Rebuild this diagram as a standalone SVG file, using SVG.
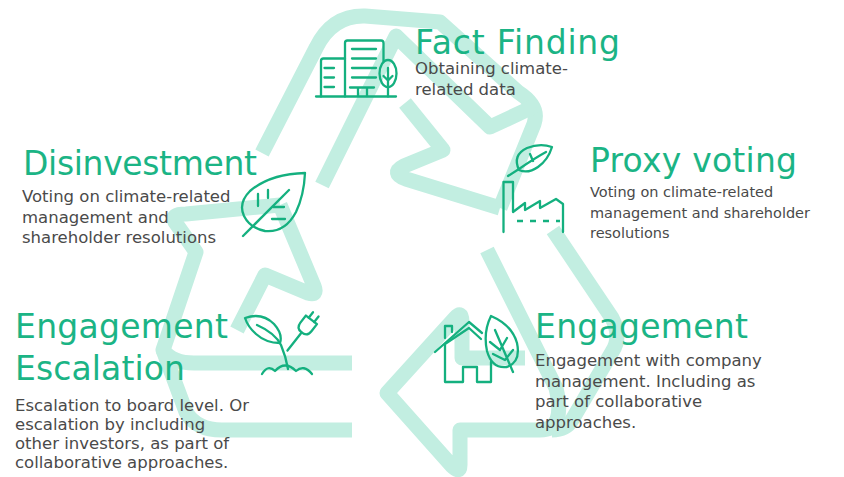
<svg xmlns="http://www.w3.org/2000/svg" width="844" height="477" viewBox="0 0 844 477">
  <style>
    .band{fill:none;stroke:#c2eee1;stroke-width:15;stroke-linejoin:round;stroke-linecap:butt}
    .ic{fill:none;stroke:#14b07f;stroke-width:2.3;stroke-linecap:round;stroke-linejoin:round}
    .ttl{font-family:"DejaVu Sans",sans-serif;font-size:33px;fill:#1bb485}
    .txt{font-family:"DejaVu Sans",sans-serif;font-size:16.5px;fill:#4a4a4a}
    .sm{font-size:14.5px}
  </style>
  <rect width="844" height="477" fill="#ffffff"/>

  <!-- recycling loop: three folded arrows drawn as outlines -->
  <g id="connectors">
    <!-- top arrow -->
    <path class="band" d="M262,153 L316,48 Q332,15 365,16 L440,22 L518,92 Q540,106 534,124 L500,208"/>
    <path class="band" d="M322,185 L396,36 L490,127 L535,106"/>
    <path class="band" d="M405,103 L443,150 L404,166 Q390,173 406,179 L500,208"/>
    <!-- right arrow, turning along the bottom -->
    <path class="band" d="M553,230 L612,318 Q622,337 612,352 L572,420 Q566,430 552,430"/>
    <path class="band" d="M487,250 L556,388 Q566,430 540,430 L460,430 L460,465 Q460,474 452,466 L387,393 L455,318 Q462,310 462,322 L462,358 L525,358"/>
    <!-- left arrow, turning up the left side -->
    <path class="band" d="M352,430 L222,430 Q196,430 186,412 L163,350"/>
    <path class="band" d="M352,363 L194,363 Q172,363 163,350 L196,252 L175,222 Q170,214 186,214 L280,205"/>
    <path class="band" d="M237,330 L265,275 L308,293 Q318,296 314,286 L280,205"/>
  </g>

  <g id="fact-finding">
    <g class="ic">
      <path d="M316,96.5 H396"/>
      <path d="M321,96.5 V61 Q321,58.5 323.5,58.5 H345"/>
      <path d="M324.5,68 H334 M324.5,77.5 H334 M324.5,87 H334"/>
      <path d="M345,96.5 V43 Q345,40.5 347.5,40.5 H381 Q383.5,40.5 383.5,43 V61"/>
      <path d="M352,49 H376 M352,58.5 H376 M352,68 H376 M352,77.5 H376"/>
      <path d="M350,87.5 H374 M358,87.5 V96 M367,87.5 V96"/>
      <ellipse cx="388" cy="73.5" rx="8.5" ry="13.5"/>
      <path d="M388,68 V96.5 M383.5,76 L388,80.5 L392.5,76"/>
    </g>
    <text class="ttl" x="415" y="54" textLength="205" lengthAdjust="spacing">Fact Finding</text>
    <text class="txt" x="415" y="74">Obtaining climate-</text>
    <text class="txt" x="415" y="94.5">related data</text>
  </g>

  <g id="proxy-voting">
    <g class="ic">
      <path d="M503.5,232 V182 H513 V212 L525,203 V210 L540,201 V208 L556,199 L563,204 V232"/>
      <path d="M517,221 H560" stroke-dasharray="6 7" stroke-linecap="butt"/>
      <path d="M519,170 Q512,155 527,148 Q540,143 552,147 Q548,160 538,167 Q528,174 519,170 Z"/>
      <path d="M508,176 L519,169 Q535,158 546,152 M530,154 L533,161"/>
    </g>
    <text class="ttl" x="590" y="172" textLength="207" lengthAdjust="spacing">Proxy voting</text>
    <text class="txt sm" x="590" y="197">Voting on climate-related</text>
    <text class="txt sm" x="590" y="217.5">management and shareholder</text>
    <text class="txt sm" x="590" y="238">resolutions</text>
  </g>

  <g id="disinvestment">
    <g class="ic">
      <path d="M305,173 Q270,174 250,191 Q238,203 244,216 Q250,228 265,231 Q285,233 296,212 Q304,195 305,173 Z"/>
      <path d="M243,236 L289,190"/>
      <path d="M258,194 V206 M268,190 V198 M273,207 H284 M272,219 H285"/>
    </g>
    <text class="ttl" x="23" y="175" textLength="234" lengthAdjust="spacing">Disinvestment</text>
    <text class="txt" x="22" y="202">Voting on climate-related</text>
    <text class="txt" x="22" y="222.5">management and</text>
    <text class="txt" x="22" y="243">shareholder resolutions</text>
  </g>

  <g id="engagement-escalation">
    <g class="ic">
      <path d="M245,318 Q262,312 274,324 Q283,334 280,343 Q266,343 256,334 Q248,327 245,318 Z"/>
      <path d="M257,325 Q275,333 281,345 Q286,357 288,369"/>
      <path d="M262,374 Q268,364 275,371 Q285,360 296,371 Q304,364 312,374"/>
      <g transform="translate(309,323) rotate(38)">
        <path d="M-7,-4 H7 V5 Q7,12 0,12 Q-7,12 -7,5 Z"/>
        <path d="M-3.5,-4 V-11 M3.5,-4 V-11 M0,12 V35"/>
      </g>
    </g>
    <text class="ttl" x="15" y="338" textLength="213" lengthAdjust="spacing">Engagement</text>
    <text class="ttl" x="15" y="380" textLength="170" lengthAdjust="spacing">Escalation</text>
    <text class="txt" x="15" y="411">Escalation to board level. Or</text>
    <text class="txt" x="15" y="430">escalation by including</text>
    <text class="txt" x="15" y="449">other investors, as part of</text>
    <text class="txt" x="15" y="468">collaborative approaches.</text>
  </g>

  <g id="engagement">
    <g class="ic">
      <path d="M435,352 L469,322 L482,333"/>
      <path d="M445,344 L469,328 L481,339"/>
      <path d="M445,338 V326 H452 V332"/>
      <path d="M445,345 V382 H463 V367 H477 V382 H491 V362"/>
      <path d="M491,316 Q512,325 517,343 Q521,362 507,367 Q492,369 487,351 Q483,332 491,316 Z"/>
      <path d="M495,330 L513,372 M490,342 L500,350 L507,338 M493,354 L505,360 L513,350"/>
    </g>
    <text class="ttl" x="535" y="338" textLength="213" lengthAdjust="spacing">Engagement</text>
    <text class="txt" x="535" y="366">Engagement with company</text>
    <text class="txt" x="535" y="386.5">management. Including as</text>
    <text class="txt" x="535" y="407">part of collaborative</text>
    <text class="txt" x="535" y="427.5">approaches.</text>
  </g>
</svg>
